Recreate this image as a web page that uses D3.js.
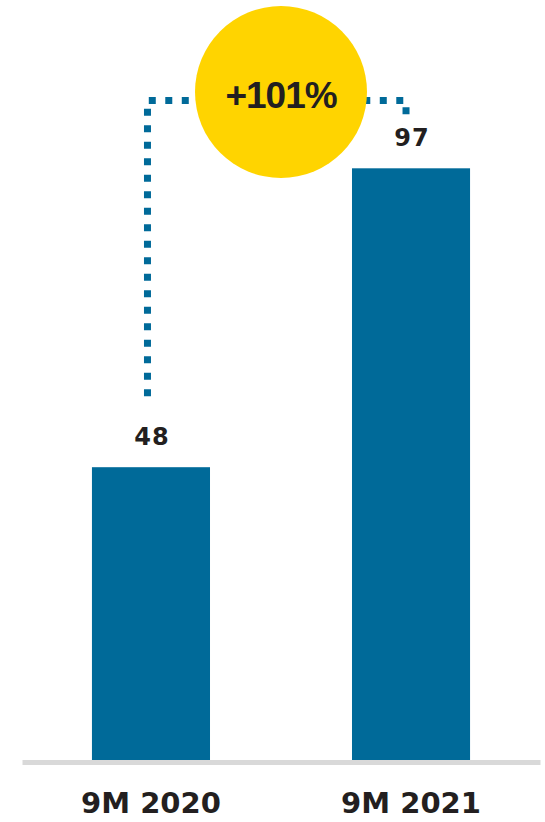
<!DOCTYPE html>
<html>
<head>
<meta charset="utf-8">
<script src="https://cdn.jsdelivr.net/npm/d3@7"></script>
<style>
  html, body { margin: 0; padding: 0; background: #ffffff; }
  svg { display: block; }
  text { font-family: "DejaVu Sans", sans-serif; font-weight: bold; fill: #231f20; }
</style>
</head>
<body>
<div id="chart"></div>
<script>
// Chart data
const categories = ["9M 2020", "9M 2021"];
const values = [48, 97];
const changeLabel = "+101%";

const W = 545, H = 822;
const barColor = "#006a99";
const axisColor = "#d9d9d9";
const badgeColor = "#ffd400";

const svg = d3.select("#chart").append("svg")
  .attr("width", W).attr("height", H);

const x = d3.scaleBand()
  .domain(categories)
  .range([22, 540])
  .paddingInner(0.546)
  .paddingOuter(0.269);

const y = d3.scaleLinear()
  .domain([0, 100])
  .range([760, 150]);

// Dotted connector from the first bar label up and over to the second bar
const x0 = x(categories[0]) + x.bandwidth() / 2 - 3.5;
const x1 = x(categories[1]) + x.bandwidth() / 2 - 5;
const topY = 100.5;
svg.append("path")
  .attr("d", `M${x0},${y(values[0]) - 71}V${topY}H${x1}V${topY + 14}`)
  .attr("fill", "none")
  .attr("stroke", barColor)
  .attr("stroke-width", 7)
  .attr("stroke-dasharray", "7,9.5");

// Bars
svg.selectAll("rect.bar")
  .data(values)
  .join("rect")
  .attr("class", "bar")
  .attr("x", (d, i) => x(categories[i]))
  .attr("y", d => y(d))
  .attr("width", x.bandwidth())
  .attr("height", d => y(0) - y(d))
  .attr("fill", barColor);

// Value labels
svg.selectAll("text.value")
  .data(values)
  .join("text")
  .attr("class", "value")
  .attr("x", (d, i) => x(categories[i]) + x.bandwidth() / 2 + 1)
  .attr("y", d => y(d) - 22)
  .attr("text-anchor", "middle")
  .attr("font-size", 24)
  .attr("letter-spacing", 1)
  .text(d => d);

// Baseline axis with category labels
const axis = svg.append("g")
  .attr("transform", "translate(0,762)")
  .call(d3.axisBottom(x).tickSize(0).tickSizeOuter(0));
axis.select(".domain")
  .attr("stroke", axisColor)
  .attr("stroke-width", 5);
axis.selectAll(".tick text")
  .attr("y", 51)
  .attr("dy", 0)
  .attr("fill", "#231f20")
  .style("font-family", "'DejaVu Sans', sans-serif")
  .style("font-weight", "bold")
  .style("font-size", "29px");

// Growth badge
const cx = 281, cy = 92;
svg.append("circle")
  .attr("cx", cx).attr("cy", cy).attr("r", 86)
  .attr("fill", badgeColor);
svg.append("text")
  .attr("x", cx).attr("y", 108)
  .attr("text-anchor", "middle")
  .attr("font-size", 37)
  .attr("letter-spacing", -1)
  .style("font-family", "'Liberation Sans', Arial, sans-serif")
  .style("font-weight", "bold")
  .text(changeLabel);
</script>
</body>
</html>
